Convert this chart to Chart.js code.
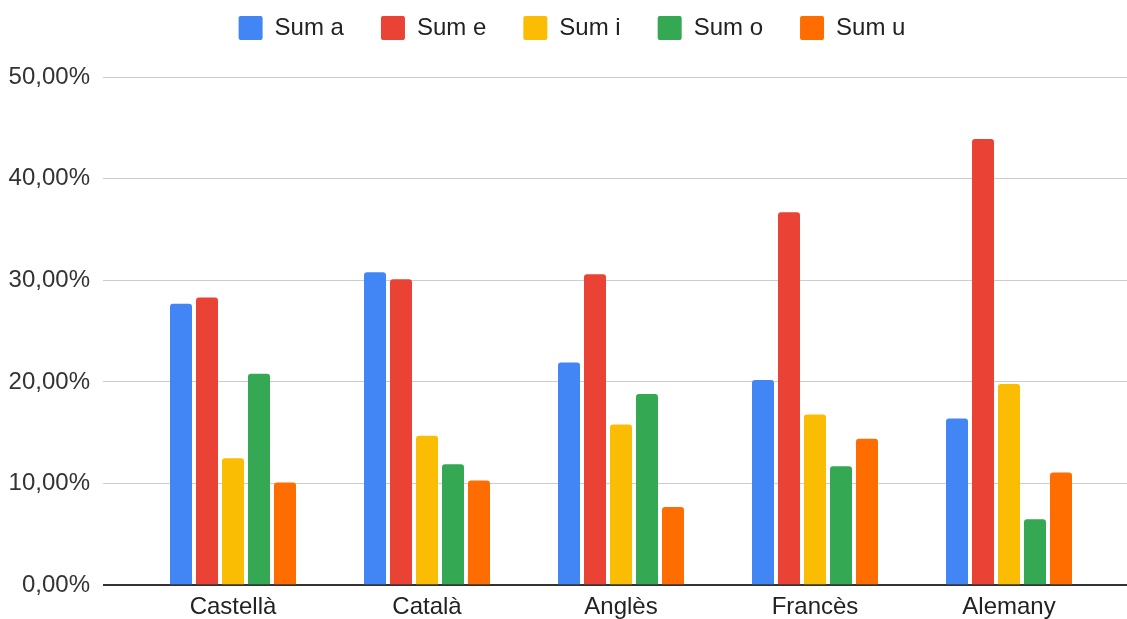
<!DOCTYPE html>
<html>
<head>
<meta charset="utf-8">
<script src="https://cdn.jsdelivr.net/npm/chart.js@4"></script>
<style>
  html, body { margin: 0; padding: 0; background: #fff; }
  #wrap { width: 1127px; height: 619px; }
</style>
</head>
<body>
<div id="wrap"><canvas id="myChart" width="1127" height="619"></canvas></div>
<script>
let categories = ['Castellà', 'Català', 'Anglès', 'Francès', 'Alemany'];
let sum_a = [27.7, 30.8, 21.9, 20.2, 16.4];
let sum_e = [28.3, 30.1, 30.6, 36.7, 43.9];
let sum_i = [12.5, 14.7, 15.8, 16.8, 19.8];
let sum_o = [20.8, 11.9, 18.8, 11.7, 6.5];
let sum_u = [10.1, 10.3, 7.7, 14.4, 11.1];
let series_names = ['Sum a', 'Sum e', 'Sum i', 'Sum o', 'Sum u'];
let colors = ['#4285F4', '#EA4335', '#FBBC04', '#34A853', '#FF6D01'];

let font_family = "Arial, 'Liberation Sans', sans-serif";

function gridColor(value) {
    return value === 0 ? '#333333' : '#cccccc';
}

function alignPx(p, w) {
    return Math.round(p - w / 2) + w / 2;
}

// legend: more room under it, and nudged a bit to the right
const legendTweak = {
    id: 'legendTweak',
    beforeUpdate(chart) {
        let lg = chart.legend;
        if (lg && !lg._tweaked) {
            let fit = lg.fit;
            lg.fit = function () {
                fit.call(this);
                this.height += 27;
            };
            lg._tweaked = true;
        }
    },
    afterLayout(chart) {
        if (chart.legend) {
            chart.legend.left += 19;
            chart.legend.right += 19;
        }
    }
};

// carries the y grid lines on to the right edge of the canvas
const extendGrid = {
    id: 'extendGrid',
    beforeDatasetsDraw(chart) {
        let y = chart.scales.y;
        let c = chart.ctx;
        c.save();
        y.ticks.forEach(function (t) {
            let w = t.value === 0 ? 2 : 1;
            let py = alignPx(y.getPixelForValue(t.value), w);
            c.beginPath();
            c.strokeStyle = gridColor(t.value);
            c.lineWidth = w;
            c.moveTo(chart.chartArea.right, py);
            c.lineTo(chart.width, py);
            c.stroke();
        });
        c.restore();
    }
};

let all_values = [sum_a, sum_e, sum_i, sum_o, sum_u];
let datasets = all_values.map(function (vals, i) {
    return {
        label: series_names[i],
        data: vals,
        backgroundColor: colors[i],
        borderColor: colors[i],
        borderWidth: 0,
        borderRadius: { topLeft: 3, topRight: 3, bottomLeft: 0, bottomRight: 0 },
        borderSkipped: 'start',
        categoryPercentage: 0.67,
        barPercentage: 0.846
    };
});

let ctx = document.getElementById('myChart');
new Chart(ctx, {
    type: 'bar',
    data: {
        labels: categories,
        datasets: datasets
    },
    options: {
        responsive: false,
        animation: false,
        layout: {
            padding: { top: -21, left: 0, right: 21, bottom: -11 }
        },
        plugins: {
            legend: {
                position: 'top',
                labels: {
                    boxWidth: 24,
                    boxHeight: 24,
                    padding: 37,
                    useBorderRadius: true,
                    borderRadius: 2,
                    color: '#222222',
                    font: { family: font_family, size: 24 }
                }
            },
            tooltip: { enabled: false }
        },
        scales: {
            x: {
                grid: { display: false, drawTicks: false },
                border: { display: false },
                ticks: {
                    padding: 8,
                    color: '#222222',
                    font: { family: font_family, size: 24 }
                }
            },
            y: {
                min: 0,
                max: 50,
                border: { display: false },
                afterFit: function (scale) { scale.width = 136; },
                grid: {
                    color: function (c) { return gridColor(c.tick.value); },
                    lineWidth: function (c) { return c.tick.value === 0 ? 2 : 1; },
                    drawTicks: true,
                    tickLength: 33
                },
                ticks: {
                    stepSize: 10,
                    padding: 13,
                    color: '#333333',
                    font: { family: font_family, size: 24 },
                    callback: function (v) {
                        return v.toFixed(2).replace('.', ',') + '%';
                    }
                }
            }
        }
    },
    plugins: [legendTweak, extendGrid]
});
</script>
</body>
</html>
